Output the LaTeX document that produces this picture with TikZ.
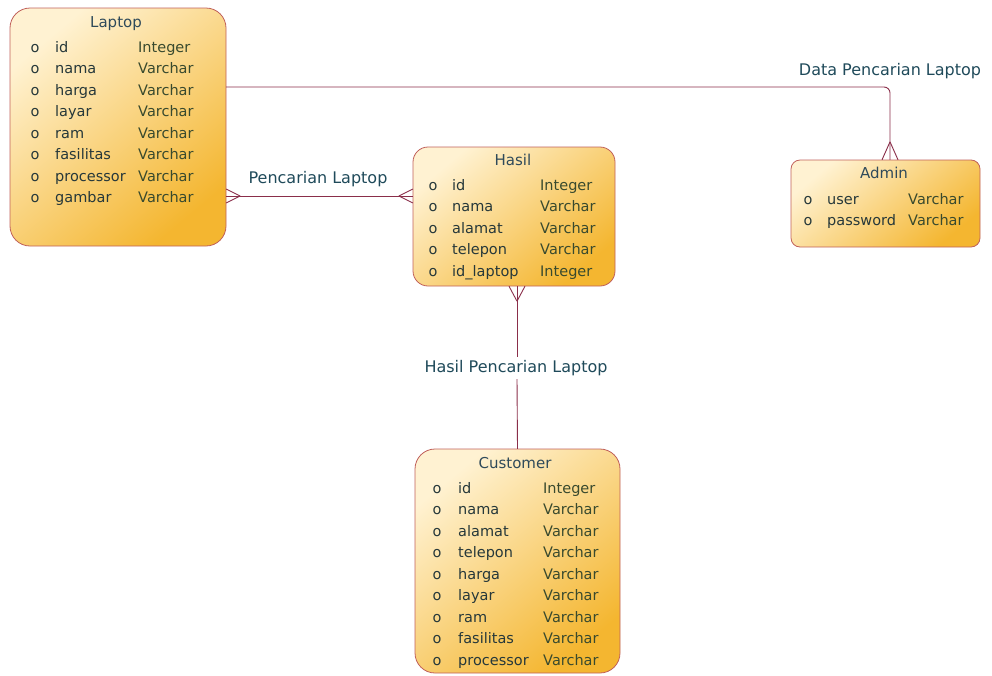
\documentclass[tikz,border=0pt]{standalone}
\usepackage{fontspec}
\setmainfont{DejaVu Sans}
\usetikzlibrary{calc}
\definecolor{boxborder}{HTML}{C0605A}
\definecolor{boxlight}{HTML}{FFF2D2}
\definecolor{boxdark}{HTML}{F4B630}
\definecolor{relcol}{HTML}{8A2E4A}
\definecolor{titlecol}{HTML}{2F4A5A}
\definecolor{namecol}{HTML}{26383A}
\definecolor{typecol}{HTML}{394A2E}
\definecolor{labelcol}{HTML}{1F4A5A}
\tikzset{
  entity/.style={draw=boxborder, line width=0.8pt, top color=boxlight, bottom color=boxdark, shading angle=40, inner sep=0pt},
  etitle/.style={text=titlecol, font=\fontsize{15}{17}\selectfont, inner sep=0pt, text height=10.5pt, text depth=3pt, yshift=-1.5pt},
  ecell/.style={anchor=west, font=\fontsize{14.5}{17}\selectfont, inner sep=0pt, text height=10.5pt, text depth=3pt, yshift=-1.5pt},
  ebullet/.style={ecell, anchor=center, text=namecol},
  ename/.style={ecell, text=namecol},
  etype/.style={ecell, text=typecol},
  rel/.style={draw=relcol, line width=0.9pt},
  rlabel/.style={text=labelcol, font=\fontsize{16}{19}\selectfont, inner sep=2pt}
}
\begin{document}
\begin{tikzpicture}[x=1pt, y=-1pt]
\useasboundingbox (0,0) rectangle (992,675);

% ---------- Laptop ----------
\path[entity, rounded corners=20pt] (10,8) rectangle (226,246);
\node (laptop) at (118,127) [minimum width=216pt, minimum height=238pt] {};
\node[etitle] (laptopT) at (116,22) {Laptop};
\foreach \n/\t/\y [count=\i] in {id/Integer/47, nama/Varchar/68.5, harga/Varchar/90, layar/Varchar/111.5, ram/Varchar/133, fasilitas/Varchar/154.5, processor/Varchar/176, gambar/Varchar/197.5}{
  \node[ebullet] (laptopB\i) at (35,\y) {o};
  \node[ename] (laptopN\i) at (55,\y) {\n};
  \node[etype] (laptopY\i) at (138,\y) {\t};
}

% ---------- Hasil ----------
\path[entity, rounded corners=15pt] (413,147) rectangle (615,286);
\node (hasil) at (514,216.5) [minimum width=202pt, minimum height=139pt] {};
\node[etitle] (hasilT) at (513,160) {Hasil};
\foreach \n/\t/\y [count=\i] in {id/Integer/185, nama/Varchar/206.5, alamat/Varchar/228, telepon/Varchar/249.5, id\_laptop/Integer/271}{
  \node[ebullet] (hasilB\i) at (433,\y) {o};
  \node[ename] (hasilN\i) at (452,\y) {\n};
  \node[etype] (hasilY\i) at (540,\y) {\t};
}

% ---------- Admin ----------
\path[entity, rounded corners=9pt] (791,160) rectangle (980,247);
\node (admin) at (885.5,203.5) [minimum width=189pt, minimum height=87pt] {};
\node[etitle] (adminT) at (884,173) {Admin};
\foreach \n/\t/\y [count=\i] in {user/Varchar/199, password/Varchar/220}{
  \node[ebullet] (adminB\i) at (808,\y) {o};
  \node[ename] (adminN\i) at (827,\y) {\n};
  \node[etype] (adminY\i) at (908,\y) {\t};
}

% ---------- Customer ----------
\path[entity, rounded corners=20pt] (415,449) rectangle (620,673);
\node (customer) at (517.5,561) [minimum width=205pt, minimum height=224pt] {};
\node[etitle] (customerT) at (515,463) {Customer};
\foreach \n/\t/\y [count=\i] in {id/Integer/488, nama/Varchar/509.5, alamat/Varchar/531, telepon/Varchar/552.5, harga/Varchar/574, layar/Varchar/595.5, ram/Varchar/617, fasilitas/Varchar/638.5, processor/Varchar/660}{
  \node[ebullet] (customerB\i) at (437,\y) {o};
  \node[ename] (customerN\i) at (458,\y) {\n};
  \node[etype] (customerY\i) at (543,\y) {\t};
}

% ---------- Relations ----------
% Laptop -> Admin
\coordinate (adminTop) at ([xshift=4.5pt]admin.north);
\draw[rel, rounded corners=6pt] ([yshift=40pt]laptop.east) -| (adminTop);
\draw[rel] ([yshift=18pt]adminTop) -- ([xshift=-8pt]adminTop)
           ([yshift=18pt]adminTop) -- ([xshift=8pt]adminTop);
\node[rlabel] (lblData) at (890,71) {Data Pencarian Laptop};

% Laptop <-> Hasil
\coordinate (lhA) at ([yshift=-69pt]laptop.east);
\coordinate (lhB) at ([yshift=20.5pt]hasil.west);
\draw[rel] (lhA) -- (lhB);
\draw[rel] ([xshift=14pt]lhA) -- ([yshift=7pt]lhA)
           ([xshift=14pt]lhA) -- ([yshift=-7pt]lhA);
\draw[rel] ([xshift=-14pt]lhB) -- ([yshift=7pt]lhB)
           ([xshift=-14pt]lhB) -- ([yshift=-7pt]lhB);
\node[rlabel] (lblPencarian) at (318,179) {Pencarian Laptop};

% Hasil -> Customer
\coordinate (hcA) at ([xshift=3pt]hasil.south);
\node[rlabel, fill=white, inner sep=0pt, minimum height=22pt] (lblHasil) at (516,368) {Hasil Pencarian Laptop};
\draw[rel] (hcA) -- (hcA |- lblHasil.north);
\draw[rel] (hcA |- lblHasil.south) -- (customer.north);
\draw[rel] ([yshift=-15pt]hcA) -- ([xshift=-8pt]hcA)
           ([yshift=-15pt]hcA) -- ([xshift=8pt]hcA);
\end{tikzpicture}
\end{document}
